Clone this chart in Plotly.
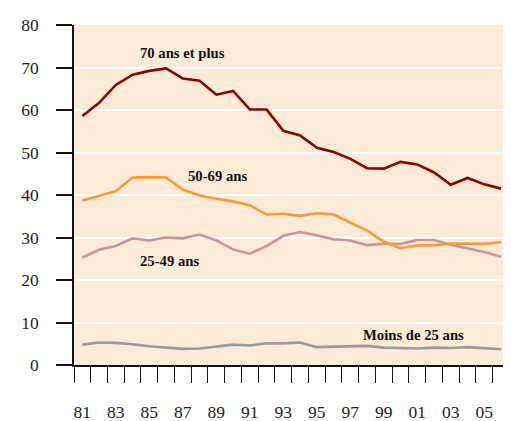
import plotly.graph_objects as go

years = list(range(1981, 2007))
tick_years = list(range(1981, 2008, 2))
tick_labels = ["81", "83", "85", "87", "89", "91", "93", "95", "97", "99", "01", "03", "05", "07"]

s70 = [58.6, 61.7, 65.9, 68.3, 69.2, 69.8, 67.4, 66.9, 63.6, 64.5, 60.1, 60.1, 55.1, 54.0,
       51.1, 50.1, 48.5, 46.3, 46.2, 47.8, 47.2, 45.3, 42.4, 44.0, 42.5, 41.5]
s50 = [38.7, 39.8, 40.9, 44.1, 44.2, 44.1, 41.3, 39.9, 39.1, 38.5, 37.6, 35.4, 35.6, 35.1,
       35.7, 35.4, 33.5, 31.6, 29.0, 27.5, 28.1, 28.2, 28.6, 28.5, 28.5, 28.9]
s25 = [25.3, 27.1, 28.0, 29.8, 29.3, 30.0, 29.8, 30.7, 29.3, 27.2, 26.2, 28.0, 30.4, 31.3,
       30.5, 29.6, 29.3, 28.2, 28.5, 28.5, 29.4, 29.4, 28.3, 27.5, 26.6, 25.5]
s_lt25 = [4.8, 5.3, 5.2, 4.9, 4.4, 4.1, 3.8, 3.9, 4.3, 4.8, 4.6, 5.1, 5.1, 5.3,
          4.2, 4.3, 4.5, 4.5, 4.1, 4.0, 3.9, 4.1, 4.0, 4.2, 4.0, 3.7]

series = [
    ("Moins de 25 ans", s_lt25, "#9a9a9a"),
    ("25-49 ans", s25, "#c9959b"),
    ("50-69 ans", s50, "#ff9933"),
    ("70 ans et plus", s70, "#8b0000"),
]

fig = go.Figure()
for name, vals, col in series:
    fig.add_trace(go.Scatter(x=years, y=vals, mode="lines", name=name,
                             line=dict(color=col, width=2.6), showlegend=False))

labels = [
    ("70 ans et plus", 1987.0, 73.5),
    ("50-69 ans", 1989.05, 44.5),
    ("25-49 ans", 1986.2, 24.5),
    ("Moins de 25 ans", 2000.8, 7.0),
]
for txt, x, y in labels:
    fig.add_annotation(x=x, y=y, text=f"<b>{txt}</b>", showarrow=False,
                       font=dict(family="Liberation Serif", size=14.7, color="#111"))

x_lo, x_hi = 1980.5, 2007.07

fig.update_layout(
    width=511, height=421,
    margin=dict(l=66, r=0, t=17, b=64),
    paper_bgcolor="white", plot_bgcolor="#fdead7",
    font=dict(family="Liberation Serif", size=17.5, color="#222"),
    xaxis=dict(range=[x_lo, x_hi], tickmode="array", tickvals=tick_years, ticktext=tick_labels,
               ticks="", showgrid=False, zeroline=False, showline=True, linecolor="#111",
               linewidth=1.5, ticklabelstandoff=30, automargin=False, ticklabeloverflow="allow",
               minor=dict(tick0=1980.5, dtick=1, ticks="outside", ticklen=16,
                          tickcolor="#111", tickwidth=1.2, showgrid=False)),
    yaxis=dict(range=[0, 80], dtick=10, ticks="outside", ticklen=16, tickcolor="#111",
               tickwidth=1.5, showline=True, linecolor="#111", linewidth=1.5, automargin=False,
               gridcolor="white", gridwidth=1.5, zeroline=False, ticklabelstandoff=14),
)

fig.write_html("out.html")
